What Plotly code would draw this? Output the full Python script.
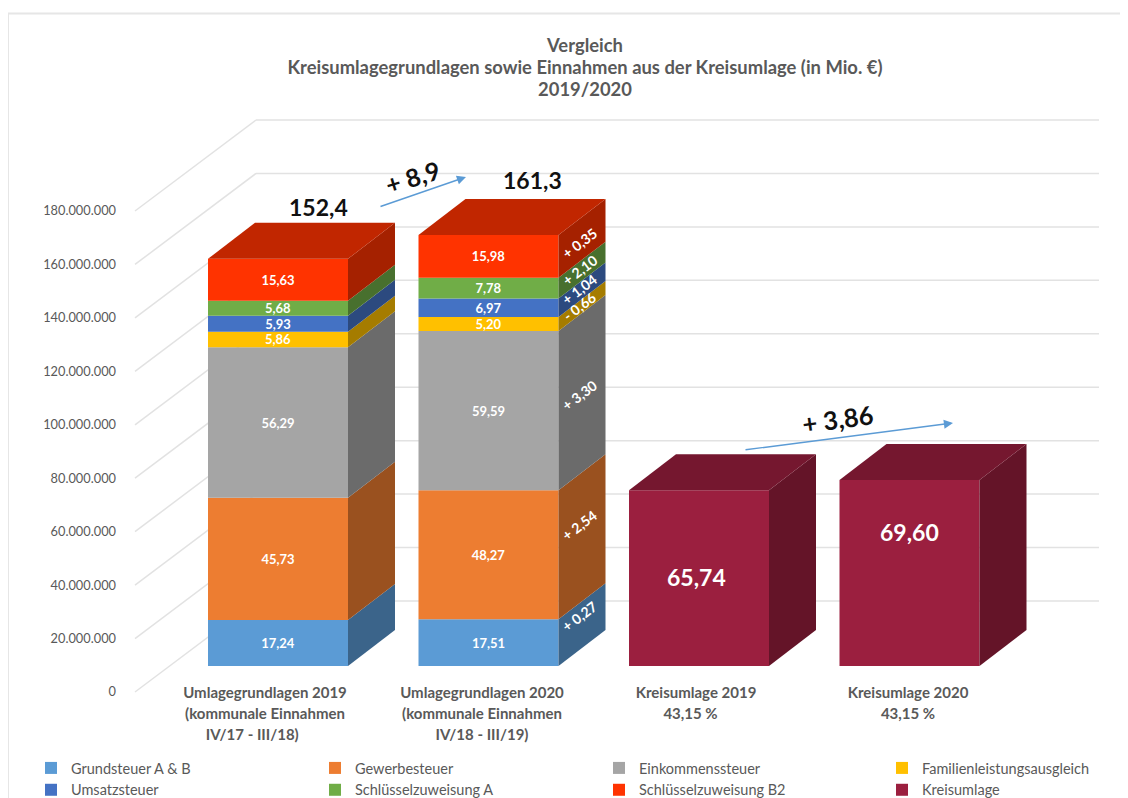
import plotly.graph_objects as go

# ---------- data (Mio. EUR) ----------
TITLE_LINES = ["Vergleich", "Kreisumlagegrundlagen sowie Einnahmen aus der Kreisumlage (in Mio. €)", "2019/2020"]
SERIES = ["Grundsteuer A & B", "Gewerbesteuer", "Einkommenssteuer", "Familienleistungsausgleich",
          "Umsatzsteuer", "Schlüsselzuweisung A", "Schlüsselzuweisung B2"]
BASIS_2019 = [17.24, 45.73, 56.29, 5.86, 5.93, 5.68, 15.63]
BASIS_2020 = [17.51, 48.27, 59.59, 5.20, 6.97, 7.78, 15.98]
KREISUMLAGE_NAME = "Kreisumlage"
KREISUMLAGE = [65.74, 69.60]
Y_TICKS = [0, 20e6, 40e6, 60e6, 80e6, 100e6, 120e6, 140e6, 160e6, 180e6]
CATEGORY_LINES = [
    ["Umlagegrundlagen 2019", "(kommunale Einnahmen", "IV/17 - III/18)"],
    ["Umlagegrundlagen 2020", "(kommunale Einnahmen", "IV/18 - III/19)"],
    ["Kreisumlage 2019", "43,15 %"],
    ["Kreisumlage 2020", "43,15 %"],
]
LINE_PADDING = {(0, 2): 7, (2, 1): 3}   # off-centre lines in the original

# ---------- styles ----------
COLORS = ["#5B9BD5", "#ED7D31", "#A5A5A5", "#FFC000", "#4472C4", "#70AD47", "#FF3300"]
KU_COLOR = "#9B1F3F"
FONT = "Lato"
TXT = "#595959"


def shade(hex_color, f):
    r, g, b = (int(hex_color[i:i + 2], 16) for i in (1, 3, 5))
    return f"rgb({int(r * f)},{int(g * f)},{int(b * f)})"


def de(v, d=2):
    return f"{v:.{d}f}".replace(".", ",")


PAGE = 8                             # page margin around the figure
W, H = 1128 - PAGE, 815              # figure size (lower edge lies below the window)
L, R, T, B = 120 - PAGE, 28, 100 - PAGE, 0   # margins
PLOT_BOTTOM = 700                    # screen px
ZERO_PX = 692                        # screen px
S = 481 / 180e6                      # px per euro
U = 210.5                            # px per category step
X0_PX = 278


def px_x(p):
    return (p - X0_PX) / U


def px_y(p):
    return (ZERO_PX - p) / S


xr = [px_x(L + PAGE), px_x(W + PAGE - R)]
yr = [px_y(PLOT_BOTTOM), px_y(T + PAGE)]
paper_h = H - T - B
paper_w = W - L - R

BAR_W = 140 / U
DX, DV = 47 / U, 36 / S              # bar depth
WALL_DX, WALL_DV = 121 / U, 91 / S   # chart wall depth
FLOOR = 26 / S                       # bars stand forward on the floor
WALL_X0 = px_x(135)
WALL_X1 = WALL_X0 + WALL_DX
WALL_END = px_x(1099)

fig = go.Figure()

# grid (floor diagonals + back wall)
shapes = []
GRID = dict(color="#E2E2E2", width=1.5)
for v in Y_TICKS:
    shapes.append(dict(type="line", xref="x", yref="y", layer="below", x0=WALL_X0, y0=v, x1=WALL_X1, y1=v + WALL_DV, line=GRID))
    shapes.append(dict(type="line", xref="x", yref="y", layer="below", x0=WALL_X1, y0=v + WALL_DV, x1=WALL_END, y1=v + WALL_DV, line=GRID))
# frame (screen px -> paper)
BORDER = dict(color="#E6E6E6", width=2)
fx = lambda p: (p - PAGE - L) / paper_w
fy = lambda p: (H - B - (p - PAGE)) / paper_h
shapes.append(dict(type="line", xref="paper", yref="paper", x0=fx(8), y0=fy(815), x1=fx(8), y1=fy(13.5), line=BORDER))
shapes.append(dict(type="line", xref="paper", yref="paper", x0=fx(8), y0=fy(13.5), x1=fx(1130), y1=fy(13.5), line=BORDER))


def poly(xs, ys, color):
    fig.add_trace(go.Scatter(x=xs, y=ys, mode="lines", fill="toself", fillcolor=color,
                             line=dict(width=0, color=color), showlegend=False, hoverinfo="skip"))


def box_sides(x, bottom, top, color, with_top):
    r = x + BAR_W / 2
    l = x - BAR_W / 2
    poly([r, r + DX, r + DX, r, r], [bottom, bottom + DV, top + DV, top, bottom], shade(color, 0.65))
    if with_top:
        poly([l, r, r + DX, l + DX, l], [top, top, top + DV, top + DV, top], shade(color, 0.76))


# stacked columns: front faces via bars
LEGEND_IDS = ["legend", "legend2", "legend3", "legend4"]
bottoms = {0: FLOOR, 1: FLOOR}
for i, name in enumerate(SERIES):
    vals = [BASIS_2019[i] * 1e6, BASIS_2020[i] * 1e6]
    fig.add_trace(go.Bar(
        x=[0, 1], y=vals, base=[bottoms[0], bottoms[1]], width=BAR_W, name=name,
        marker=dict(color=COLORS[i], line=dict(width=0)),
        text=[de(BASIS_2019[i]), de(BASIS_2020[i])], textposition="inside", insidetextanchor="middle",
        textangle=0, constraintext="none",
        textfont=dict(family=FONT, size=13, color="white", weight="bold"),
        legend=LEGEND_IDS[i % 4], hoverinfo="name+y"))
    for k, v in enumerate(vals):
        box_sides(k, bottoms[k], bottoms[k] + v, COLORS[i], i == len(SERIES) - 1)
        bottoms[k] += v

# Kreisumlage columns
fig.add_trace(go.Bar(x=[2, 3], y=[v * 1e6 for v in KREISUMLAGE], base=[FLOOR, FLOOR], width=BAR_W,
                     name=KREISUMLAGE_NAME, marker=dict(color=KU_COLOR, line=dict(width=0)),
                     legend="legend4", hoverinfo="name+y"))
for k, v in enumerate(KREISUMLAGE):
    box_sides(2 + k, FLOOR, FLOOR + v * 1e6, KU_COLOR, True)

# annotations
ann = []
# change labels on the side faces of column 2
nudges = [8, 11, -3, 0, 0, 0, -5]
cum = FLOOR
for i in range(len(SERIES)):
    d = BASIS_2020[i] - BASIS_2019[i]
    h = BASIS_2020[i] * 1e6
    label = ("+ " if d >= 0 else "- ") + de(abs(d))
    ann.append(dict(x=1 + BAR_W / 2 + DX / 2, y=cum + h / 2 + DV / 2, xref="x", yref="y", text=label, showarrow=False,
                    textangle=-37, xshift=-3, yshift=nudges[i], xanchor="center", yanchor="middle",
                    font=dict(family=FONT, size=14, color="white", weight="bold")))
    cum += h

sum19, sum20 = sum(BASIS_2019), sum(BASIS_2020)
for text, px, py, size, ang in [
    (de(sum19, 1), 318, 207, 23, 0),
    (de(sum20, 1), 532, 180, 23, 0),
    ("+ " + de(sum20 - sum19, 1), 412, 177, 25, -17),
    ("+ " + de(KREISUMLAGE[1] - KREISUMLAGE[0]), 837, 419, 25.5, -8),
]:
    ann.append(dict(x=px_x(px), y=px_y(py), xref="x", yref="y", text=text, showarrow=False, textangle=ang,
                    font=dict(family=FONT, size=size, color="#111111", weight="bold")))

for v, px, py in [(KREISUMLAGE[0], 696, 577), (KREISUMLAGE[1], 909, 532)]:
    ann.append(dict(x=px_x(px), y=px_y(py), xref="x", yref="y", text=de(v), showarrow=False,
                    font=dict(family=FONT, size=23, color="white", weight="bold")))

for (x0, y0, x1, y1) in [(379, 207, 466, 177), (744, 450, 953, 423)]:
    ann.append(dict(x=px_x(x1), y=px_y(y1), ax=px_x(x0), ay=px_y(y0), xref="x", yref="y", axref="x", ayref="y",
                    text="", showarrow=True, arrowhead=2, arrowsize=1.3, arrowwidth=1.4, arrowcolor="#5B9BD5"))

# category labels
tick_pos = [px_x(p) for p in (265, 482, 696, 908)]
tick_text = ["<br>".join(
    f'<span style="font-size:15px">{s}{"&nbsp;" * LINE_PADDING.get((c, n), 0)}</span>' for n, s in enumerate(lines))
    for c, lines in enumerate(CATEGORY_LINES)]

legend_base = dict(orientation="v", yanchor="top", xanchor="left", bgcolor="rgba(0,0,0,0)", borderwidth=0,
                   itemwidth=30, indentation=-10, itemclick=False, itemdoubleclick=False, tracegroupgap=0,
                   font=dict(family=FONT, size=14.5, color=TXT))
LEG_Y = fy(752)
col_px = [41, 325, 609, 892]

layout = dict(
    width=W, height=H, autosize=False, separators=",.", barmode="overlay",
    margin=dict(l=L, r=R, t=T, b=B, pad=0),
    paper_bgcolor="white", plot_bgcolor="rgba(0,0,0,0)",
    font=dict(family=FONT, color=TXT),
    title=dict(text="<br>".join(f'<span style="font-size:18.4px">{s}</span>' for s in TITLE_LINES),
               x=(585 - PAGE) / W, xanchor="center", y=1 - 44 / H, yanchor="top", pad=dict(t=0, b=0),
               font=dict(family=FONT, size=17, color=TXT, weight="bold")),
    xaxis=dict(range=xr, tickmode="array", tickvals=tick_pos, ticktext=tick_text, showgrid=False, zeroline=False,
               showline=False, ticks="", anchor="free", position=fy(681),
               tickfont=dict(family=FONT, size=16, color=TXT, weight="bold"), tickangle=0, automargin=False),
    yaxis=dict(range=yr, domain=[fy(PLOT_BOTTOM), 1], tickmode="array", tickvals=Y_TICKS, tickformat=",d",
               showgrid=False, zeroline=False, showline=False, ticks="", automargin=False, ticklabelstandoff=3,
               tickfont=dict(family=FONT, size=12.8, color=TXT)),
    shapes=shapes, annotations=ann, showlegend=True,
    legend=dict(legend_base, x=fx(col_px[0]), y=LEG_Y),
    legend2=dict(legend_base, x=fx(col_px[1]), y=LEG_Y),
    legend3=dict(legend_base, x=fx(col_px[2]), y=LEG_Y),
    legend4=dict(legend_base, x=fx(col_px[3]), y=LEG_Y),
)
fig.update_layout(**layout)
fig.write_html("out.html")
